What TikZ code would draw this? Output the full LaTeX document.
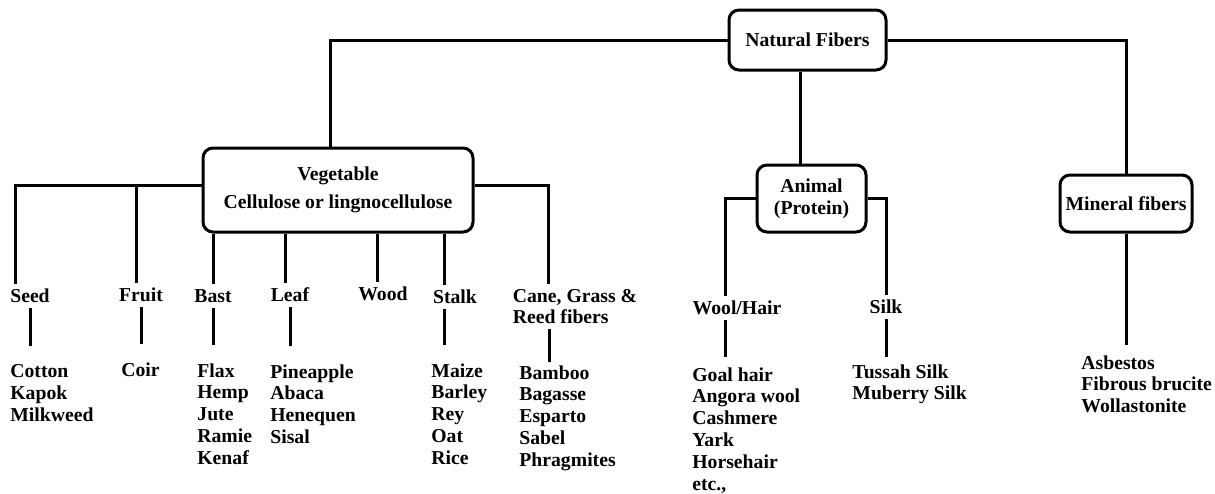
\documentclass[tikz,border=0pt]{standalone}
\usepackage{fontspec}
\setmainfont{Liberation Serif}
\usetikzlibrary{positioning}
\newcommand{\fibertext}{\fontsize{9.85}{10.9}\selectfont\bfseries}
\tikzset{%
  fiberbox/.style={draw,line width=1.5pt,rounded corners=5pt,align=center,
    inner sep=0pt,font=\fibertext},
  group/.style={align=left,inner sep=2.5pt,font=\fibertext},
  items/.style={align=left,inner sep=0pt,anchor=north west,font=\fibertext},
  link/.style={line width=1.5pt},
  stem/.style={link,shorten >=9pt}
}

\begin{document}
\begin{tikzpicture}[x=0.5pt,y=-0.5pt]
  \useasboundingbox (0,0) rectangle (1215,493);

  % main classes
  \node[fiberbox,minimum width=78.5pt,minimum height=30pt] (natural) at (807.5,40) {Natural Fibers};
  \node[fiberbox,minimum width=135pt,minimum height=42pt] (veg) at (338,190) {Vegetable\\[3pt]Cellulose or lingnocellulose};
  \node[fiberbox,minimum width=54.5pt,minimum height=33.5pt] (animal) at (811.5,198.5) {Animal\\(Protein)};
  \node[fiberbox,minimum width=66pt,minimum height=28.5pt] (mineral) at (1126,203.5) {Mineral fibers};

  % plant groups
  \node[group] (seed) at (30,296) {Seed};
  \node[group] (fruit) at (141,295) {Fruit};
  \node[group] (bast) at (213,296) {Bast};
  \node[group] (leaf) at (290,295) {Leaf};
  \node[group] (wood) at (383,294) {Wood};
  \node[group] (stalk) at (455,297) {Stalk};
  \node[group] (cane) at (575,306.5) {Cane, Grass \&\\Reed fibers};

  % animal groups
  \node[group] (wool) at (737,308) {Wool/Hair};
  \node[group] (silk) at (886,307) {Silk};

  % examples
  \node[items] (seedlist) at (10,364) {Cotton\\Kapok\\Milkweed};
  \node[items] (fruitlist) at (121,362) {Coir};
  \node[items] (bastlist) at (197,363) {Flax\\Hemp\\Jute\\Ramie\\Kenaf};
  \node[items] (leaflist) at (270,364) {Pineapple\\Abaca\\Henequen\\Sisal};
  \node[items] (stalklist) at (431,363) {Maize\\Barley\\Rey\\Oat\\Rice};
  \node[items] (canelist) at (519,365) {Bamboo\\Bagasse\\Esparto\\Sabel\\Phragmites};
  \node[items] (woollist) at (692,367) {Goal hair\\Angora wool\\Cashmere\\Yark\\Horsehair\\etc.,};
  \node[items] (silklist) at (852,364) {Tussah Silk\\Muberry Silk};
  \node[items] (minerallist) at (1081,355) {Asbestos\\Fibrous brucite\\Wollastonite};

  % top level branches
  \draw[link] (natural.west) -| ([xshift=-4pt]veg.north);
  \draw[link] (natural.east) -| (mineral.north);
  \draw[link] ([xshift=-3.5pt]natural.south) -- ([xshift=-3.5pt]natural.south |- animal.north);

  % vegetable branches
  \draw[link] ([yshift=2.5pt]veg.west) -| ([xshift=-7.5pt]seed.north);
  \draw[link] ([xshift=-2.5pt]fruit.north) |- ([yshift=2.5pt]veg.west);
  \draw[link] ([yshift=2.5pt]veg.east) -| ([xshift=-13.5pt]cane.north);
  \draw[link] (bast.north |- veg.south) -- (bast.north);
  \draw[link] ([xshift=-2.5pt]leaf.north |- veg.south) -- ([xshift=-2.5pt]leaf.north);
  \draw[link] ([xshift=-3pt]wood.north |- veg.south) -- ([xshift=-3pt]wood.north);
  \draw[link] ([xshift=-5.5pt]stalk.north |- veg.south) -- ([xshift=-5.5pt]stalk.north);

  % animal branches
  \draw[link] (animal.west) -| ([xshift=-6pt]wool.north);
  \draw[link] (animal.east) -| (silk.north);

  % group to examples
  \draw[stem] (seed.south) -- (seed.south |- seedlist.north);
  \draw[stem] (fruit.south) -- (fruit.south |- fruitlist.north);
  \draw[stem] (bast.south) -- (bast.south |- bastlist.north);
  \draw[stem] (leaf.south) -- (leaf.south |- leaflist.north);
  \draw[stem] ([xshift=-5.5pt]stalk.south) -- ([xshift=-5.5pt]stalk.south |- stalklist.north);
  \draw[stem,shorten >=1.5pt] ([xshift=-13pt]cane.south) -- ([xshift=-13pt]cane.south |- canelist.north);
  \draw[stem,shorten >=5pt] ([xshift=-6pt]wool.south) -- ([xshift=-6pt]wool.south |- woollist.north);
  \draw[stem,shorten >=3.5pt] (silk.south) -- (silk.south |- silklist.north);
  \draw[stem,shorten >=5pt] (mineral.south) -- (mineral.south |- minerallist.north);
\end{tikzpicture}
\end{document}
